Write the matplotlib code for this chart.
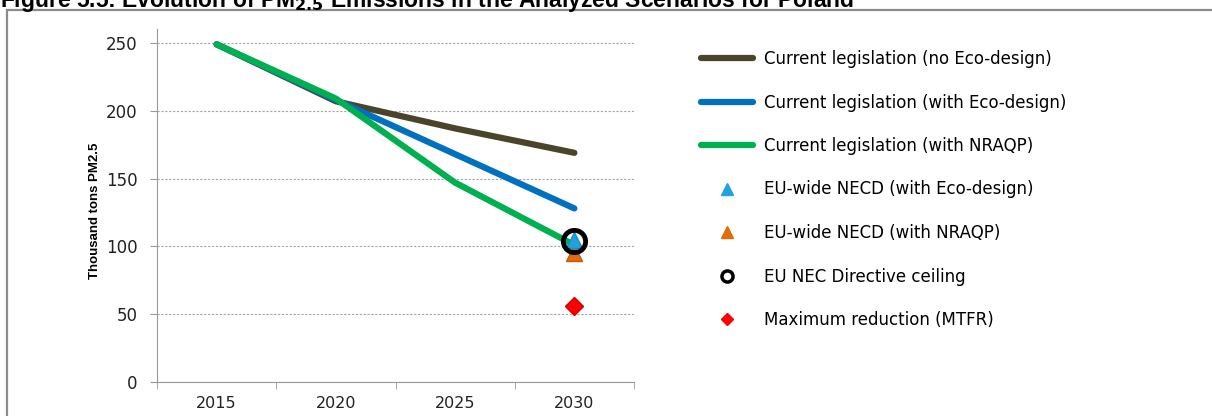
import numpy as np
import matplotlib
matplotlib.use('Agg')
import matplotlib.pyplot as plt
from matplotlib.lines import Line2D
from matplotlib.patches import Rectangle

years = ['2015', '2020', '2025', '2030']
cle_no_eco = [249, 207, 187, 169]
cle_eco = [249, 208, 168, 128]
cle_nraqp = [249, 209, 147, 101]
necd_eco = 105
necd_nraqp = 95
nec_ceiling = 104
mtfr = 56

labels = ['Current legislation (no Eco-design)',
          'Current legislation (with Eco-design)',
          'Current legislation (with NRAQP)',
          'EU-wide NECD (with Eco-design)',
          'EU-wide NECD (with NRAQP)',
          'EU NEC Directive ceiling',
          'Maximum reduction (MTFR)']

c_brown = '#4a452a'
c_blue = '#0070c0'
c_green = '#00b050'
c_tri_blue = '#1fa3e0'
c_tri_orange = '#e36c09'
c_red = '#ff0000'

fig = plt.figure(figsize=(12.12, 4.16), dpi=100)

# outer frame of the figure box
fig.patches.append(Rectangle((7 / 1212, -0.1), 1.2, (416 - 10) / 416 + 0.1,
                             transform=fig.transFigure, fill=False,
                             edgecolor='#8c8c8c', linewidth=1.6))

fig.text(0.0, 1 - 7 / 416,
         r'Figure 5.5: Evolution of PM$_{\mathbf{2.5}}$ Emissions in the Analyzed Scenarios for Poland',
         fontsize=16.5, fontweight='bold', family='Liberation Sans', va='baseline', ha='left')

ax = fig.add_axes([157 / 1212, 34 / 416, (634 - 157) / 1212, (382 - 29.4) / 416])
x = np.arange(len(years))
ax.plot(x, cle_no_eco, color=c_brown, lw=4.5, solid_capstyle='round', zorder=3)
ax.plot(x, cle_eco, color=c_blue, lw=4.5, solid_capstyle='round', zorder=4)
ax.plot(x, cle_nraqp, color=c_green, lw=4.5, solid_capstyle='round', zorder=5)
ax.plot([x[-1]], [necd_nraqp], marker='^', ms=11, color=c_tri_orange, mec='#c05a08', ls='none', zorder=6)
ax.plot([x[-1]], [necd_eco], marker='^', ms=11, color=c_tri_blue, mec='#1a8cc0', ls='none', zorder=7)
ax.plot([x[-1]], [nec_ceiling], marker='o', ms=16, mfc='none', mec='black', mew=3.5, ls='none', zorder=8)
ax.plot([x[-1]], [mtfr], marker='D', ms=9, color=c_red, mec='#d00000', ls='none', zorder=6)

ax.set_xlim(-0.5, 3.5)
ax.set_ylim(0, 260)
ax.set_yticks([0, 50, 100, 150, 200, 250])
ax.set_xticks(x)
ax.set_xticklabels(years)
ax.set_xticks(np.arange(-0.5, 4, 1), minor=True)
ax.tick_params(axis='x', which='major', length=0, pad=10, labelsize=11.5, labelcolor='#222222')
ax.tick_params(axis='x', which='minor', length=5, color='#999999', direction='out')
ax.tick_params(axis='y', length=5, color='#999999', pad=9, labelsize=12, labelcolor='#222222')
for lab in ax.get_xticklabels() + ax.get_yticklabels():
    lab.set_family('DejaVu Sans')
ax.grid(axis='y', color='#a6a6a6', linestyle=(0, (2, 1.5)), linewidth=0.8)
ax.set_axisbelow(True)
for s in ['top', 'right']:
    ax.spines[s].set_visible(False)
ax.spines['left'].set_color('#999999')
ax.spines['bottom'].set_color('#999999')

fig.text(95 / 1212, 1 - 211 / 416, 'Thousand tons PM2.5', rotation=90,
         fontsize=9.5, fontweight='bold', family=['Liberation Sans Narrow', 'Liberation Sans'],
         ha='center', va='center')

handles = [
    Line2D([], [], color=c_brown, lw=4.5, solid_capstyle='round'),
    Line2D([], [], color=c_blue, lw=4.5, solid_capstyle='round'),
    Line2D([], [], color=c_green, lw=4.5, solid_capstyle='round'),
    Line2D([], [], marker='^', ms=8, color=c_tri_blue, ls='none'),
    Line2D([], [], marker='^', ms=8, color=c_tri_orange, ls='none'),
    Line2D([], [], marker='o', ms=8, mfc='none', mec='black', mew=2.5, ls='none'),
    Line2D([], [], marker='D', ms=6, color=c_red, ls='none'),
]
fig.legend(handles, labels, loc='upper left', bbox_to_anchor=(686 / 1212, 1 - 35 / 416),
           frameon=False, handlelength=3.1, handletextpad=0.65,
           labelspacing=1.53, prop={'family': 'DejaVu Sans', 'size': 12})

fig.savefig('out.png', dpi=100)
